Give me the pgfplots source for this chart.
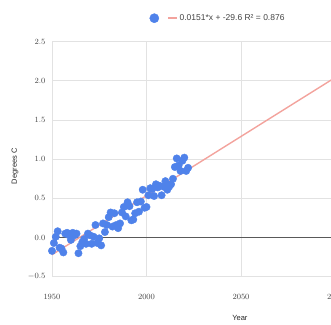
\documentclass[border=0pt]{standalone}
\usepackage{pgfplots}
\pgfplotsset{compat=1.18}
\usepackage{fontspec}
\setmainfont{Liberation Sans}
\definecolor{gblue}{HTML}{4F82EA}
\definecolor{trendc}{HTML}{F3A39D}
\definecolor{gridc}{HTML}{E2E2E2}
\definecolor{tickc}{HTML}{444444}
\pgfplotsset{shortline/.style={legend image code/.code={\draw[##1] (0cm,0cm) -- (0.3cm,0cm);}}}
\pgfplotstableread{
year temp
1950 -0.17
1951 -0.07
1952 0.01
1953 0.08
1954 -0.13
1955 -0.14
1956 -0.19
1957 0.05
1958 0.06
1959 0.03
1960 -0.03
1961 0.06
1962 0.03
1963 0.05
1964 -0.20
1965 -0.11
1966 -0.06
1967 -0.02
1968 -0.08
1969 0.05
1970 0.03
1971 -0.08
1972 0.01
1973 0.16
1974 -0.07
1975 -0.01
1976 -0.10
1977 0.18
1978 0.07
1979 0.16
1980 0.26
1981 0.32
1982 0.14
1983 0.31
1984 0.16
1985 0.12
1986 0.18
1987 0.32
1988 0.39
1989 0.27
1990 0.45
1991 0.40
1992 0.22
1993 0.23
1994 0.31
1995 0.45
1996 0.33
1997 0.46
1998 0.61
1999 0.38
2000 0.39
2001 0.54
2002 0.63
2003 0.62
2004 0.53
2005 0.68
2006 0.64
2007 0.66
2008 0.54
2009 0.65
2010 0.72
2011 0.61
2012 0.65
2013 0.68
2014 0.75
2015 0.90
2016 1.01
2017 0.92
2018 0.85
2019 0.98
2020 1.02
2021 0.85
2022 0.89
}\temps
\begin{document}
\begin{tikzpicture}
\useasboundingbox (0,0) rectangle (331pt,324pt);
\clip (0,0) rectangle (331pt,324pt);
\begin{axis}[
  at={(52pt,47.3pt)}, anchor=south west,
  scale only axis, width=378pt, height=235pt,
  xmin=1950, xmax=2150, ymin=-0.5, ymax=2.5,
  xtick={1950,2000,2050,2100,2150},
  ytick={-0.5,0,0.5,1,1.5,2,2.5},
  axis line style={draw=none},
  major tick length=0pt,
  grid=major,
  grid style={draw=gridc, line width=0.8pt},
  tick label style={font=\fontsize{8}{9}\selectfont, text=tickc},
  xticklabel style={/pgf/number format/1000 sep={}, yshift=-14pt},
  yticklabel style={/pgf/number format/fixed, /pgf/number format/fixed zerofill, /pgf/number format/precision=1, xshift=-3pt},
  xlabel={Year},
  ylabel={Degrees C},
  label style={font=\fontsize{7.5}{9}\selectfont, text=black!85},
  xlabel style={at={(axis description cs:0.497,-0.176)}, anchor=center},
  ylabel style={at={(axis description cs:-0.098,0.47)}, anchor=center},
  legend columns=2,
  legend style={draw=none, fill=none, at={(axis description cs:0.25,1.10)}, anchor=west,
    font=\fontsize{8.5}{10}\selectfont, text=tickc,
    /tikz/every even column/.append style={column sep=4pt}},
]
\addlegendimage{color=gblue, only marks, mark=*, mark size=4.6pt, mark options={draw=gblue, fill=gblue}}
\addlegendentry{}
\addlegendimage{trendc, line width=2.2pt, shortline}
\addlegendentry{0.0151*x + -29.6 R² = 0.876}
\addplot[draw=black!65, line width=1pt, forget plot] coordinates {(1950,0) (2150,0)};
\addplot[draw=trendc, line width=1.4pt, forget plot] coordinates {(1950,-0.2197) (2150,2.8003)};
\addplot[color=gblue, only marks, mark=*, mark size=3.7pt, mark options={draw=gblue, fill=gblue}, forget plot] table[x=year, y=temp] {\temps};
\end{axis}
\end{tikzpicture}
\end{document}
